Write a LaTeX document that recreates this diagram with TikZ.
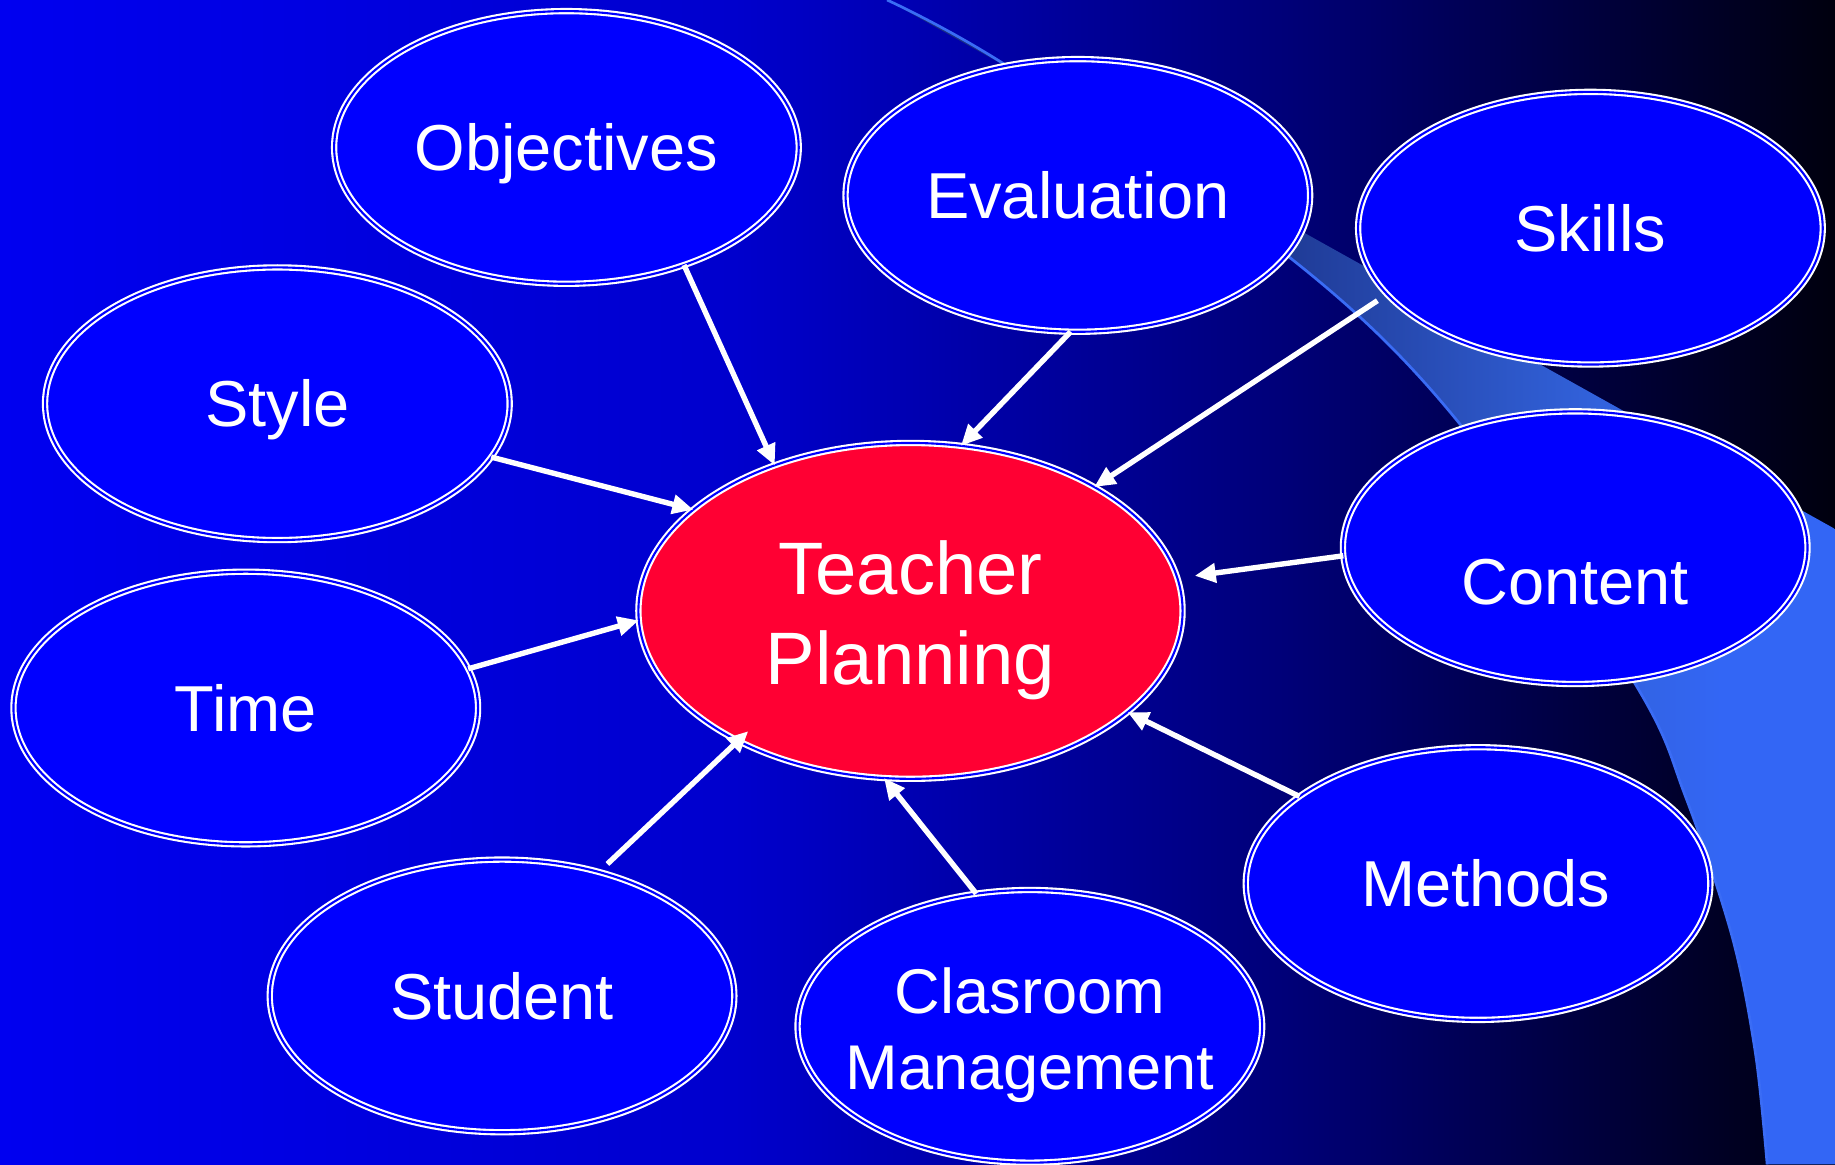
\documentclass[tikz,border=0pt]{standalone}
\usepackage{fontspec}
\setmainfont{Liberation Sans}
\usetikzlibrary{arrows.meta,shapes.geometric}
\definecolor{bgA}{RGB}{0,0,240}
\definecolor{bgB}{RGB}{0,0,205}
\definecolor{bgC}{RGB}{0,0,120}
\definecolor{bgD}{RGB}{0,0,14}
\definecolor{bandA}{RGB}{25,45,130}
\definecolor{bandB}{RGB}{32,60,152}
\definecolor{bandC}{RGB}{50,98,220}
\definecolor{bandD}{RGB}{51,102,245}
\definecolor{edgeblue}{RGB}{58,108,245}
\definecolor{blobblue}{RGB}{0,0,255}
\definecolor{tpred}{RGB}{255,0,51}
\pgfdeclarehorizontalshading{bgshade}{100bp}{color(0bp)=(bgA); color(25bp)=(bgA); color(45bp)=(bgB); color(60bp)=(bgC); color(75bp)=(bgD); color(100bp)=(bgD)}
\pgfdeclarehorizontalshading{bandshade}{100bp}{color(0bp)=(bandA); color(25bp)=(bandA); color(46.5bp)=(bandB); color(62.5bp)=(bandC); color(69bp)=(bandD); color(100bp)=(bandD)}
\begin{document}
\begin{tikzpicture}[x=1pt,y=-1pt,
  blob/.style={ellipse, draw=white, line width=1.8pt, double=blobblue, double distance=1.8pt,
    fill=blobblue, minimum width=397pt, minimum height=233pt, inner sep=0pt, outer sep=0pt,
    text=white, font=\fontsize{55.5}{66}\selectfont, text height=39.7pt, text depth=0pt},
  centre/.style={blob, fill=tpred, minimum width=465pt, minimum height=287pt,
    font=\fontsize{63.5}{76.9}\selectfont, text height=45.5pt, text depth=72.7pt},
  link/.style={draw=white, line width=4.6pt, -{Triangle[length=18pt,width=16pt]}},
]
\useasboundingbox (0,0) rectangle (1568,995);
\shade[shading=bgshade] (0,0) rectangle (1568,995);
% light swoosh
\shade[shading=bandshade] plot[smooth, tension=0.55] coordinates {(758,0) (860,56) (1102,220) (1248,363) (1397,584) (1440,680) (1480,800) (1500,900) (1510,995)} -- (1568,995) -- (1568,452) -- cycle;
\draw[edgeblue, line width=2.3pt] plot[smooth, tension=0.55] coordinates {(758,0) (860,56) (1102,220) (1248,363) (1397,584) (1440,680) (1480,800) (1500,900) (1510,995)};
% nodes
\node[blob] (obj) at (484,126) {Objectives};
\node[blob] (eval) at (921,167) {Evaluation};
\node[blob] (skills) at (1359,195) {Skills};
\node[blob] (style) at (237,345) {Style};
\node[centre] (tp) at (778,522) {\makebox[0pt]{\begin{tabular}[t]{@{}c@{}}Teacher\\Planning\end{tabular}}};
\node[blob, text height=97.7pt] (content) at (1346,468) {Content};
\node[blob] (time) at (210,605) {Time};
\node[blob] (methods) at (1263,755) {\hspace*{13pt}Methods};
\node[blob] (student) at (429,851) {Student};
\node[blob, font=\fontsize{54}{64.9}\selectfont, text height=38.7pt, text depth=60.9pt] (class) at (880,877) {\makebox[0pt]{\begin{tabular}[t]{@{}c@{}}Clasroom\\Management\end{tabular}}};
% connectors
\draw[link] (obj.-45) -- (tp.133.4);
\draw[link] (eval.-93.4) -- (tp.73.1);
\draw[link, shorten <=10pt] (skills.198.9) -- (tp.34);
\draw[link] (style.-14.8) -- (tp.155.1);
\draw[link, shorten >=15pt] (content.182.3) -- (tp.7.6);
\draw[link] (time.10.5) -- (tp.182);
\draw[link] (methods.154.5) -- (tp.-25.4);
\draw[link] (class.112.2) -- (tp.-99.2);
\draw[link, shorten <=10pt, shorten >=-12pt] (student.52.2) -- (tp.217.5);
\end{tikzpicture}
\end{document}
